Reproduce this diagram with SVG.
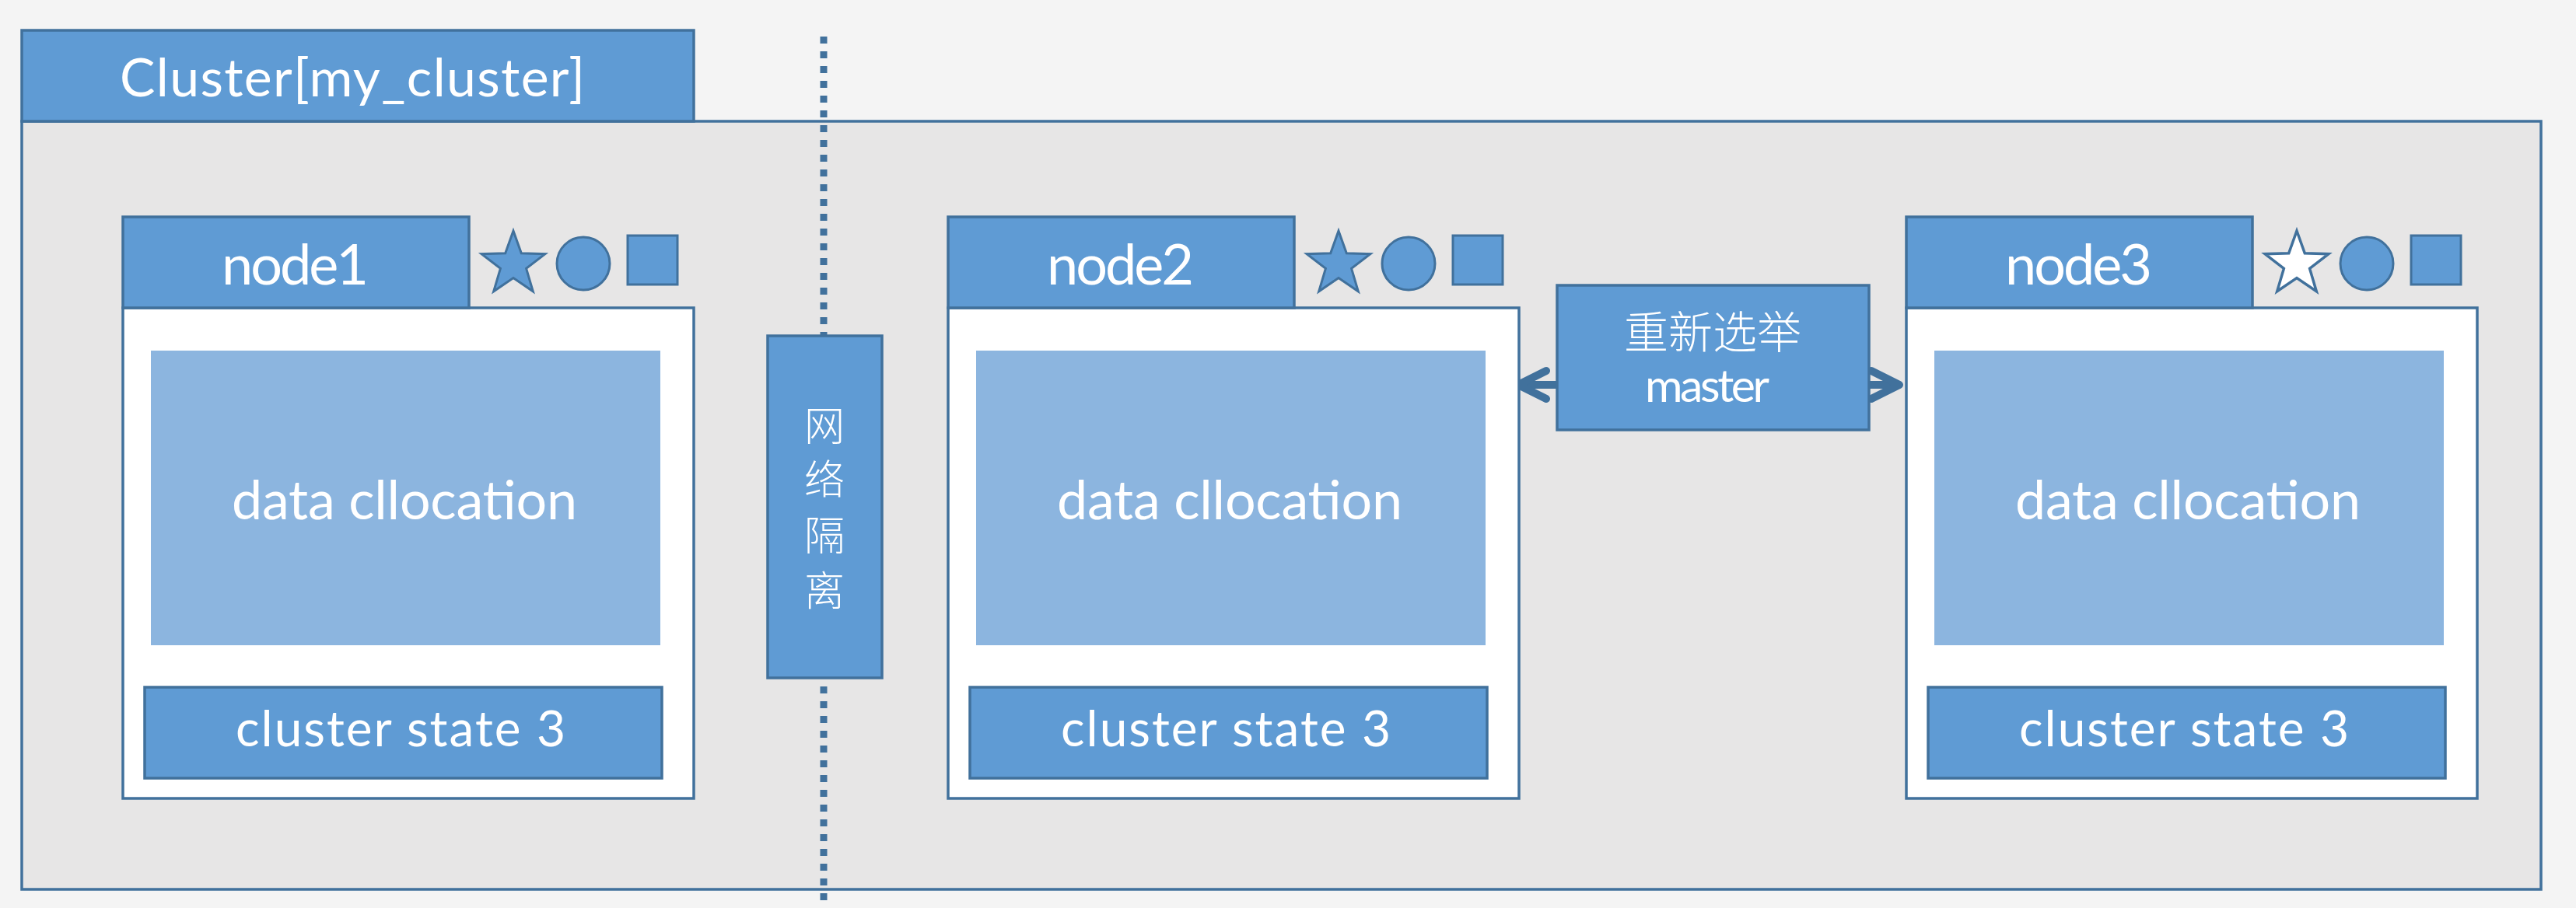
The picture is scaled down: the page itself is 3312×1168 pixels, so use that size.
<svg xmlns="http://www.w3.org/2000/svg" xmlns:xlink="http://www.w3.org/1999/xlink" width="3312" height="1168" viewBox="0 0 3312 1168">
<style>
.bg{fill:#f4f4f4}
.frame{fill:#e7e6e6;stroke:#41719c;stroke-width:3.5}
.tab{fill:#5f9bd4;stroke:#41719c;stroke-width:3.5}
.body{fill:#ffffff;stroke:#41719c;stroke-width:3.5}
.data{fill:#8cb5df}
.icon{fill:#5f9bd4;stroke:#41719c;stroke-width:3}
.icon-w{fill:#ffffff;stroke:#41719c;stroke-width:3.5}
.t{fill:#ffffff;font-family:Lato,"Open Sans","Noto Sans",sans-serif}
.cjk{fill:#ffffff;font-family:"Noto Sans CJK SC","Noto Sans",sans-serif;font-weight:300}
.dots{fill:none;stroke:#41719c;stroke-width:9;stroke-dasharray:9 10}
.conn{fill:none;stroke:#41719c;stroke-width:10}
</style>
<defs>
<path id="star" d="M0,-43 L10.3,-14.2 L40.9,-13.3 L16.6,5.4 L25.3,34.8 L0,17.5 L-25.3,34.8 L-16.6,5.4 L-40.9,-13.3 L-10.3,-14.2 Z"/>
<marker id="head" viewBox="-50 -30 60 60" refX="0" refY="0" markerWidth="60" markerHeight="60" markerUnits="userSpaceOnUse" orient="auto-start-reverse">
<path d="M-36,-18 L0,0 L-36,18" fill="none" stroke="#41719c" stroke-width="10" stroke-linejoin="round" stroke-linecap="round"/>
</marker>
</defs>
<rect class="bg" x="0" y="0" width="3312" height="1168"/>

<g id="cluster">
<rect class="frame" x="28" y="156" width="3239" height="988"/>
<rect class="tab" x="28" y="39" width="864" height="117"/>
<text class="t" x="154" y="124" font-size="68" textLength="598" lengthAdjust="spacing">Cluster[my_cluster]</text>
</g>

<g id="partition-line">
<line class="dots" x1="1059" y1="47" x2="1059" y2="1162"/>
</g>

<g id="connectors">
<line class="conn" x1="1952" y1="495" x2="2442" y2="495" marker-start="url(#head)" marker-end="url(#head)"/>
</g>

<g id="network-partition">
<rect class="tab" x="987" y="432" width="147" height="440"/>
<text class="cjk" x="1060" y="567" font-size="52" text-anchor="middle">网</text>
<text class="cjk" x="1060" y="636" font-size="52" text-anchor="middle">络</text>
<text class="cjk" x="1060" y="708" font-size="52" text-anchor="middle">隔</text>
<text class="cjk" x="1060" y="779" font-size="52" text-anchor="middle">离</text>
</g>

<g id="reelect-master">
<rect class="tab" x="2002" y="367" width="401" height="186"/>
<text class="cjk" x="2202" y="448" font-size="57" text-anchor="middle">重新选举</text>
<text class="t" x="2115" y="517" font-size="59" textLength="160" lengthAdjust="spacing">master</text>
</g>

<g id="node1">
<rect class="body" x="158" y="396" width="734" height="631"/>
<rect class="tab" x="158" y="279" width="445" height="117"/>
<rect class="data" x="194" y="451" width="655" height="379"/>
<rect class="tab" x="186" y="884" width="665" height="117"/>
<use href="#star" xlink:href="#star" class="icon" x="660" y="340"/>
<circle class="icon" cx="750" cy="339" r="34"/>
<rect class="icon" x="807" y="303" width="64" height="63"/>
<text class="t" x="285" y="366" font-size="72" textLength="189" lengthAdjust="spacing">node1</text>
<text class="t" x="298" y="668" font-size="70" textLength="444" lengthAdjust="spacing">data cllocation</text>
<text class="t" x="303" y="960" font-size="64" textLength="424" lengthAdjust="spacing">cluster state 3</text>
</g>

<g id="node2" transform="translate(1061,0)">
<rect class="body" x="158" y="396" width="734" height="631"/>
<rect class="tab" x="158" y="279" width="445" height="117"/>
<rect class="data" x="194" y="451" width="655" height="379"/>
<rect class="tab" x="186" y="884" width="665" height="117"/>
<use href="#star" xlink:href="#star" class="icon" x="660" y="340"/>
<circle class="icon" cx="750" cy="339" r="34"/>
<rect class="icon" x="807" y="303" width="64" height="63"/>
<text class="t" x="285" y="366" font-size="72" textLength="189" lengthAdjust="spacing">node2</text>
<text class="t" x="298" y="668" font-size="70" textLength="444" lengthAdjust="spacing">data cllocation</text>
<text class="t" x="303" y="960" font-size="64" textLength="424" lengthAdjust="spacing">cluster state 3</text>
</g>

<g id="node3" transform="translate(2293,0)">
<rect class="body" x="158" y="396" width="734" height="631"/>
<rect class="tab" x="158" y="279" width="445" height="117"/>
<rect class="data" x="194" y="451" width="655" height="379"/>
<rect class="tab" x="186" y="884" width="665" height="117"/>
<use href="#star" xlink:href="#star" class="icon-w" x="660" y="340"/>
<circle class="icon" cx="750" cy="339" r="34"/>
<rect class="icon" x="807" y="303" width="64" height="63"/>
<text class="t" x="285" y="366" font-size="72" textLength="189" lengthAdjust="spacing">node3</text>
<text class="t" x="298" y="668" font-size="70" textLength="444" lengthAdjust="spacing">data cllocation</text>
<text class="t" x="303" y="960" font-size="64" textLength="424" lengthAdjust="spacing">cluster state 3</text>
</g>
</svg>
